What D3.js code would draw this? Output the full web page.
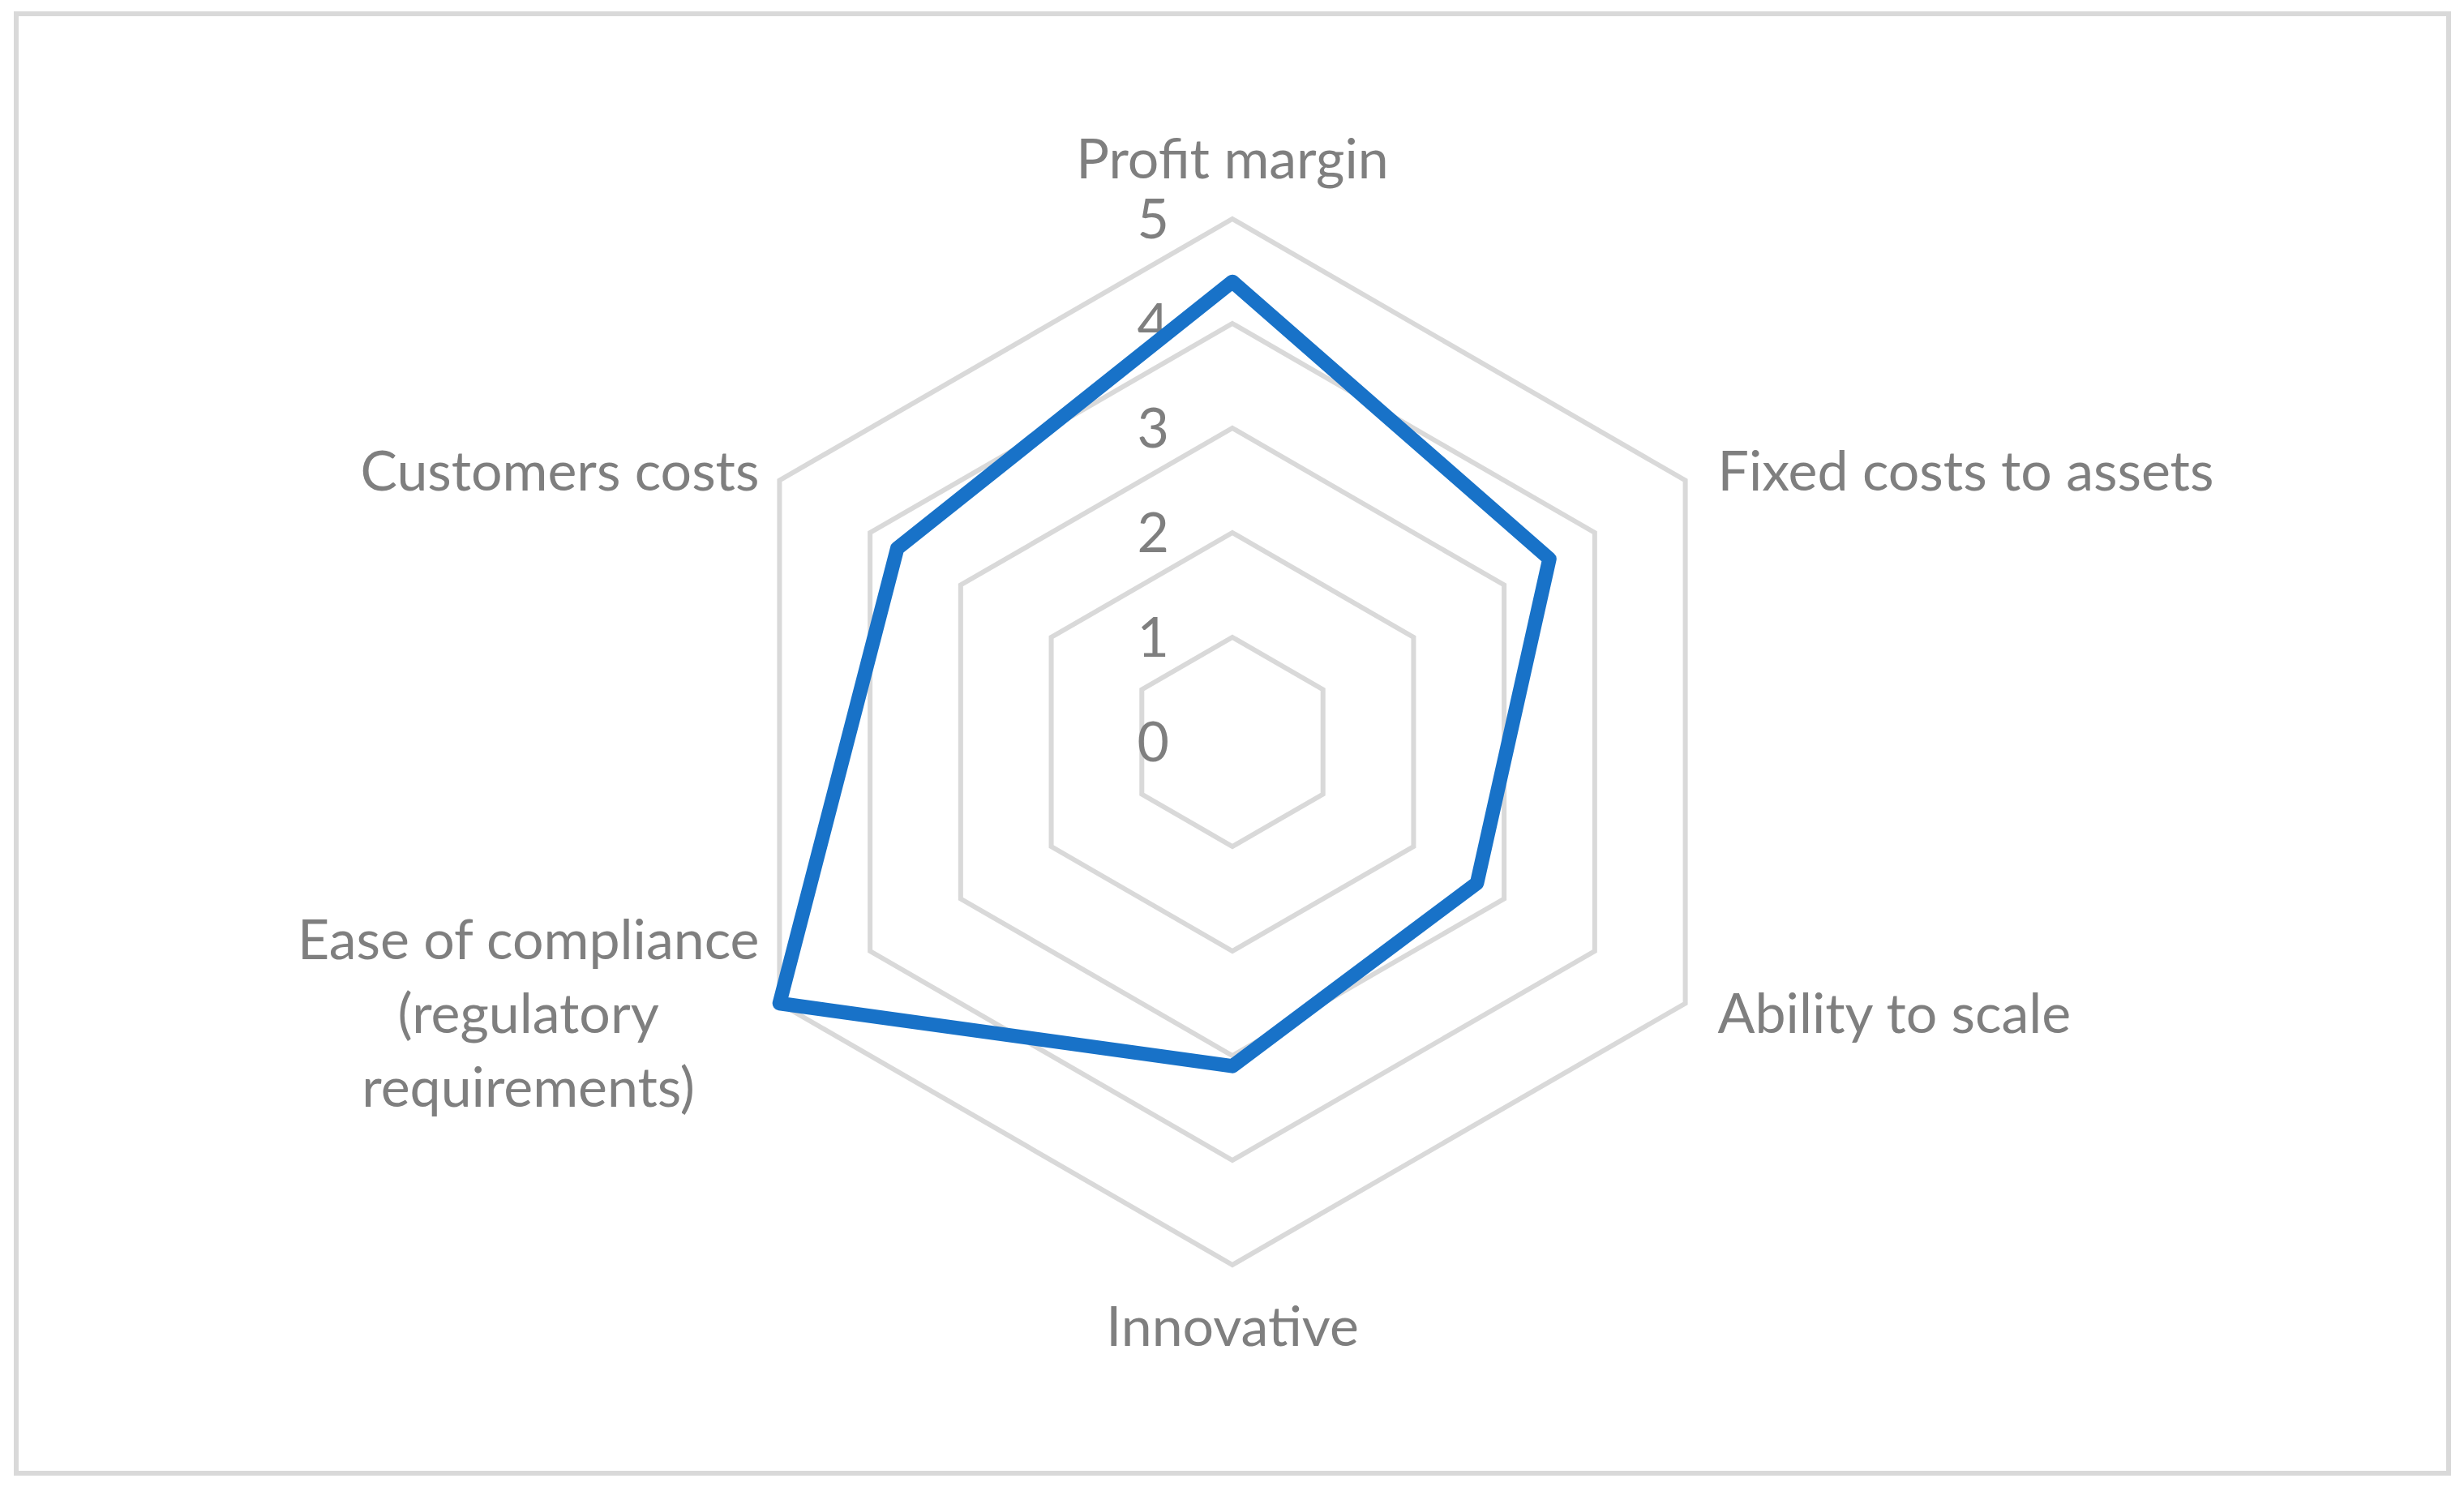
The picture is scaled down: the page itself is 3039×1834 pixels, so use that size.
<!DOCTYPE html>
<html>
<head>
<meta charset="utf-8">
<script src="https://cdn.jsdelivr.net/npm/d3@7"></script>
<style>
  html, body { margin: 0; padding: 0; background: #fff; }
  text { font-family: Lato, "Open Sans", sans-serif; fill: #7f7f7f; }
</style>
</head>
<body>
<div id="mount"></div>
<script>
// axis names, clockwise from the top
var categories = ['Profit margin', 'Fixed costs to assets', 'Ability to scale',
                  'Innovative', 'Ease of compliance (regulatory requirements)', 'Customers costs'];
// how each label is broken over lines
var labelLines = [['Profit margin'], ['Fixed costs to assets'], ['Ability to scale'],
                  ['Innovative'], ['Ease of compliance', '(regulatory', 'requirements)'], ['Customers costs']];
var scores = [4.4, 3.5, 2.7, 3.1, 5, 3.7];
var ticks = [0, 1, 2, 3, 4, 5];

var W = 3039, H = 1834;
var cx = 1520, cy = 915;
var radius = 645;

var svg = d3.select('#mount').append('svg')
    .attr('width', W)
    .attr('height', H);

// chart area border
svg.append('rect')
    .attr('x', 20).attr('y', 17)
    .attr('width', 3000).attr('height', 1800)
    .attr('fill', '#fff')
    .attr('stroke', '#d9d9d9')
    .attr('stroke-width', 6);

var g = svg.append('g')
    .attr('transform', `translate(${cx},${cy})`);

var r = d3.scaleLinear().domain([0, 5]).range([0, radius]);
var angle = d3.scaleLinear().domain([0, categories.length]).range([0, 2 * Math.PI]);

var radial = d3.lineRadial()
    .angle((d, i) => angle(i))
    .curve(d3.curveLinearClosed);

// concentric hexagons
g.selectAll('.grid')
    .data(ticks.filter(t => t > 0))
  .enter().append('path')
    .attr('class', 'grid')
    .attr('d', t => radial.radius(() => r(t))(categories))
    .attr('fill', 'none')
    .attr('stroke', '#d9d9d9')
    .attr('stroke-width', 6);

// tick values along the top axis
g.selectAll('.tick')
    .data(ticks)
  .enter().append('text')
    .attr('class', 'tick')
    .attr('x', -78)
    .attr('y', t => -r(t))
    .attr('dy', '0.35em')
    .attr('text-anchor', 'end')
    .style('font-size', '68px')
    .text(t => t);

// data polygon
g.append('path')
    .datum(scores)
    .attr('d', radial.radius(d => r(d)))
    .attr('fill', 'none')
    .attr('stroke', '#1872c8')
    .attr('stroke-width', 17.5)
    .attr('stroke-linejoin', 'round');

// category labels
var lineH = 91;
labelLines.forEach((lines, i) => {
  var a = angle(i);
  var vx = Math.sin(a) * r(5), vy = -Math.cos(a) * r(5);
  var t = g.append('text').style('font-size', '68px');
  var tsp = t.selectAll('tspan').data(lines).enter().append('tspan').text(d => d);
  var x, y, anchor;
  var shift = vy < 0 ? -12 : 12;
  if (Math.abs(vx) < 1) {
    anchor = 'middle';
    x = vx;
    y = vy < 0 ? vy - 50 : vy + 100;
  } else if (vx > 0) {
    anchor = 'start';
    x = vx + 40;
    y = vy + shift + 24;
  } else {
    anchor = 'end';
    x = vx - 25;
    y = vy + shift + 24;
  }
  if (lines.length > 1) {
    // centred block whose widest line ends next to the vertex
    var widths = [];
    tsp.each(function() { widths.push(this.getComputedTextLength()); });
    var maxW = d3.max(widths);
    anchor = 'middle';
    x = x - maxW / 2;
    y = y - (lines.length - 1) / 2 * lineH;
  }
  t.attr('text-anchor', anchor);
  tsp.attr('x', x).attr('y', (d, k) => y + k * lineH);
});
</script>
</body>
</html>
